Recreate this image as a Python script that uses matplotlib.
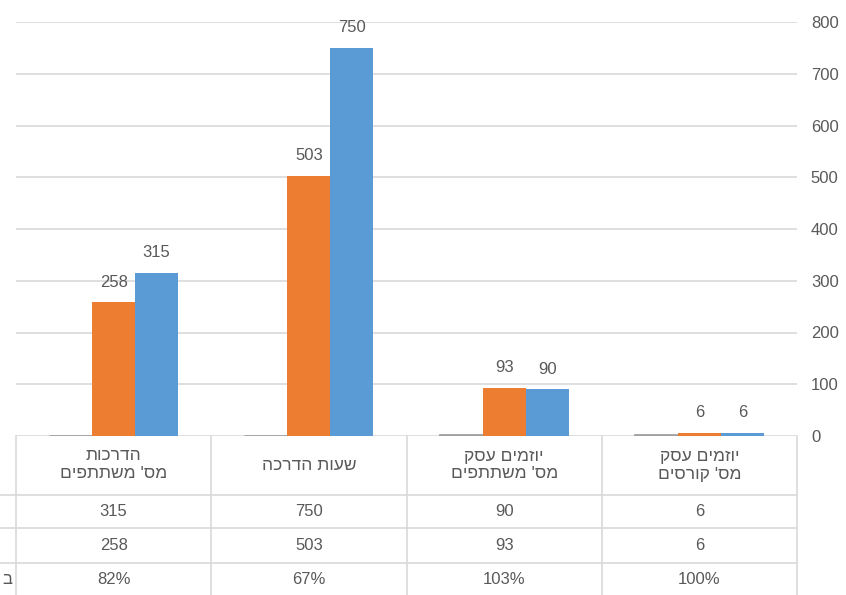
import numpy as np
import matplotlib
matplotlib.use('Agg')
import matplotlib.pyplot as plt

plt.rcParams['font.family'] = ['Liberation Sans Narrow', 'Liberation Sans', 'DejaVu Sans']

# data (left to right as shown)
categories = ["הדרכות\nמס' משתתפים", "שעות הדרכה", "יוזמים עסק\nמס' משתתפים", "יוזמים עסק\nמס' קורסים"]
blue_vals = [315, 750, 90, 6]
orange_vals = [258, 503, 93, 6]
pct_vals = [0.82, 0.67, 1.03, 1.00]
pct_labels = ['82%', '67%', '103%', '100%']
yticks = [0, 100, 200, 300, 400, 500, 600, 700, 800]

def heb(s):
    # matplotlib has no bidi, so reverse each line for visual order
    return '\n'.join(line[::-1] for line in s.split('\n'))

W, H = 846, 595
fig = plt.figure(figsize=(W/100, H/100), dpi=100)
ax_left, ax_right, ax_bot, ax_top = 16, 797, 436, 22
ax = fig.add_axes([ax_left/W, (H-ax_bot)/H, (ax_right-ax_left)/W, (ax_bot-ax_top)/H])

txt = '#595959'
grid = '#d9d9d9'
x = np.arange(len(categories))
w = 0.22
ax.bar(x - w, pct_vals, w, color='#a0a0a0', edgecolor='#a0a0a0', linewidth=2)
ob = ax.bar(x, orange_vals, w, color='#ed7d31')
bb = ax.bar(x + w, blue_vals, w, color='#5b9bd5')
for bars, vals in [(ob, orange_vals), (bb, blue_vals)]:
    for b, v in zip(bars, vals):
        ax.annotate(str(v), (b.get_x() + b.get_width()/2, v), xytext=(0, 9),
                    textcoords='offset points', ha='center', va='bottom',
                    fontsize=12, color=txt)

ax.set_xlim(-0.5, 3.5)
ax.set_ylim(0, 800)
ax.set_yticks(yticks)
ax.yaxis.tick_right()
ax.tick_params(axis='y', length=0, pad=10, labelsize=12, labelcolor=txt)
ax.set_xticks([])
ax.yaxis.grid(True, color=grid, linewidth=1.2)
ax.set_axisbelow(True)
for s in ax.spines.values():
    s.set_visible(False)

# data table below the plot
tr = ax.get_xaxis_transform()
def fy(py):
    return (ax_bot - py) / (ax_bot - ax_top)
unit = (ax_right - ax_left) / 4
x_far = -0.5 - ax_left / unit
row_lines = [495, 528, 563]
for py in row_lines:
    ax.plot([x_far, 3.5], [fy(py)] * 2, transform=tr, color=grid, lw=1.2, clip_on=False)
for xb in np.arange(-0.5, 4.0, 1.0):
    ax.plot([xb, xb], [fy(436), fy(600)], transform=tr, color=grid, lw=1.2, clip_on=False)

for i, c in enumerate(categories):
    ax.text(i, fy(465), heb(c), transform=tr, ha='center', va='center',
            fontsize=12.5, color=txt, linespacing=1.25)
    ax.text(i, fy(511), str(blue_vals[i]), transform=tr, ha='center', va='center', fontsize=12, color=txt)
    ax.text(i, fy(545), str(orange_vals[i]), transform=tr, ha='center', va='center', fontsize=12, color=txt)
    ax.text(i, fy(580), pct_labels[i], transform=tr, ha='center', va='center', fontsize=12, color=txt)
ax.text(x_far + 2/unit, fy(580), 'ב', transform=tr, ha='left', va='center', fontsize=12, color=txt)

fig.savefig('out.png', dpi=100)
